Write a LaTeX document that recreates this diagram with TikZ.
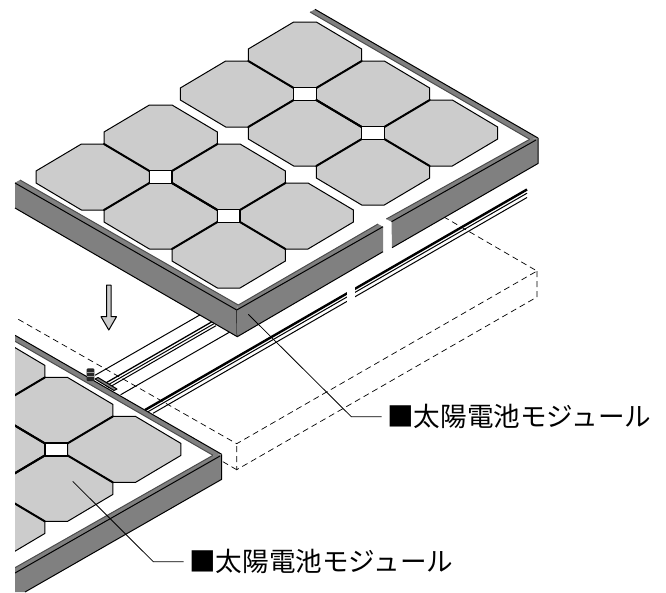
\documentclass[tikz,border=0pt]{standalone}
\usepackage{fontspec}
\newfontfamily\jpfont{Noto Sans CJK JP}
\usepackage{xcolor}
\definecolor{cellgray}{RGB}{204,204,204}
\definecolor{framegray}{RGB}{128,128,128}
\tikzset{
  thinline/.style={line width=1pt,line join=round},
  boldline/.style={line width=2pt,line cap=round},
  dashline/.style={line width=0.7pt,dash pattern=on 6pt off 4pt},
  leader/.style={line width=0.8pt},
  modlabel/.style={font=\jpfont\fontsize{26.6}{27}\selectfont,anchor=west,inner sep=5.5pt},
  octagon/.pic={
    \draw[thinline,fill=cellgray] (-56.7,-6) -- (-11.3,-33) -- (11.3,-33) -- (56.7,-6)
      -- (56.7,6) -- (11.3,33) -- (-11.3,33) -- (-56.7,6) -- cycle;
  },
  junction/.pic={
    \draw[boldline] (-56.7,-33) -- (-11.3,-6) (56.7,-33) -- (11.3,-6)
      (-56.7,33) -- (-11.3,6) (56.7,33) -- (11.3,6);
    \draw[line width=1.2pt,fill=white] (-11.3,-6.5) rectangle (11.3,6.5);
  }
}
\begin{document}
\begin{tikzpicture}[x=1pt,y=-1pt]
\useasboundingbox (0,0) rectangle (666,592);

\draw[line width=2.4pt] (145,410) -- (527,189.5);
\draw[thinline] (147,412.3) -- (527,193.2);
\draw[thinline] (153,413.3) -- (527,197.5);
\fill[white] (347,280) rectangle (355,312);
\draw[thinline] (95,375.3) -- (205,312);
\draw[thinline] (120.7,394.7) -- (235,329);
\draw[line width=1.3pt] (104,384) -- (212,321.7);
\draw[thinline] (106,386) -- (214,323.7);
\draw[thinline] (108,388) -- (216,325.7);

\draw[dashline] (18.3,319.3) -- (236.7,443.7) -- (537,271) -- (444,217);
\draw[dashline] (537,271) -- (537,297) -- (236.7,469.7) -- (236.7,443.7);
\draw[dashline] (236.7,469.7) -- (221.7,461);

\fill[white] (315,9.3) -- (538,138) -- (236.7,310) -- (15,182.7) -- cycle;
\fill[framegray] (310,12) -- (315,9.3) -- (538,138) -- (529.7,139.3) -- cycle;
\draw[thinline] (315,9.3) -- (538,138);
\draw[thinline,black!70] (310,12) -- (529.7,139.3);
\fill[framegray] (15,182.7) -- (20,180) -- (238.3,305) -- (236.7,310) -- cycle;
\draw[thinline,black!70] (20,180) -- (238.3,305);
\fill[framegray] (15,182.7) -- (236.7,310) -- (237.3,336.7) -- (15,208) -- cycle;
\draw[thinline] (15,183) -- (236.7,310) -- (237.3,336.7) -- (15,208);
\fill[framegray] (238.3,305) -- (378,224) -- (383,226.7) -- (383,251.7) -- (237.3,336.7) -- (236.7,310) -- cycle;
\draw[thinline] (236.7,310) -- (383,226.7);
\draw[thinline,black!70] (238.3,305) -- (378,224);
\draw[thinline] (237.3,336.7) -- (383,251.7);
\fill[framegray] (386.3,219) -- (529.7,139.3) -- (538,138) -- (538,163.5) -- (392,247.7) -- (391.5,221.7) -- cycle;
\draw[thinline] (391.5,221.7) -- (536,140);
\draw[thinline,black!70] (386.3,219) -- (529.7,139.3);
\draw[thinline] (538,138) -- (538,163.5) -- (392,247.7);

\foreach \cx/\cy in {92.7/177,160.7/138,160.7/216,228.7/177,228.7/255,296.7/216,
                     237/94,305/55,305/133,373/94,373/172,441/133}
  \pic at (\cx,\cy) {octagon};
\foreach \cx/\cy in {160.7/177,228.7/216,305/94,373/133}
  \pic at (\cx,\cy) {junction};

\fill[cellgray] (106.7,285) -- (111,285) -- (111,316.7) -- (116.5,316.7) -- (108.8,330)
  -- (101,316.7) -- (106.7,316.7) -- cycle;
\draw[thinline] (106.7,285) -- (111,285) -- (111,316.7) -- (116.5,316.7) -- (108.8,330)
  -- (101,316.7) -- (106.7,316.7) -- cycle;

\begin{scope}
\clip (15,330) rectangle (240,592);
\fill[white] (15,335.3) -- (221.7,454.3) -- (15,573) -- cycle;
\foreach \cx/\cy in {-11.8/371.4,56.2/410.4,-11.8/449.4,124.2/449.4,56.2/488.4,-11.8/527.4}
  \pic at (\cx,\cy) {octagon};
\foreach \cx/\cy in {56.2/449.4,-11.8/410.4,-11.8/488.4}
  \pic at (\cx,\cy) {junction};
\fill[framegray] (15,335.3) -- (221.7,454.3) -- (213,455.3) -- (15,341.3) -- cycle;
\draw[thinline] (15,335.3) -- (221.7,454.3);
\draw[thinline,black!70] (15,341.3) -- (213,455.3);
\fill[framegray] (213,455.3) -- (221.7,454.3) -- (221.7,479.3) -- (25,592) -- (15,592) -- (15,567.7) -- cycle;
\draw[thinline] (220,456) -- (15,573);
\draw[thinline,black!70] (213,455.3) -- (15,567.7);
\draw[thinline] (221.7,454.3) -- (221.7,479.3) -- (25,592);
\end{scope}

\fill[black!85,rounded corners=1pt] (86.7,368.3) rectangle (94.3,381);
\draw[black!40,line width=0.5pt] (87,372.5) -- (94,372.5) (87,376) -- (94,376);
\draw[thinline,fill=framegray] (95,379) -- (98,377.5) -- (117,389) -- (114,390.5) -- cycle;

\coordinate (tipUpper) at (248.3,314.3);
\coordinate (bendUpper) at (351.3,416.7);
\coordinate (tipLower) at (72.7,481.3);
\coordinate (bendLower) at (153.3,561.7);
\node[modlabel] (labelUpper) at (381.5,416.7) {■太陽電池モジュール};
\node[modlabel] (labelLower) at (183.5,561.7) {■太陽電池モジュール};
\draw[leader] (tipUpper) -- (bendUpper) -- (labelUpper.west);
\draw[leader] (tipLower) -- (bendLower) -- (labelLower.west);
\end{tikzpicture}
\end{document}
